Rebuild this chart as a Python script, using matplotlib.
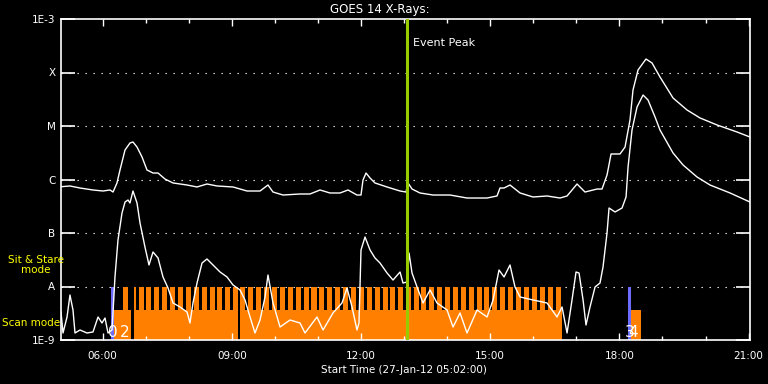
"""
GOES 14 X-ray light curves with IRIS-style observing mode bars
"""
import matplotlib
matplotlib.use("Agg")
import matplotlib.pyplot as plt
from matplotlib.ticker import FixedLocator, NullFormatter

# start of the window: 27-Jan-12 05:02:00, times below in minutes after it
START_HOUR, START_MIN = 5, 2
WINDOW_MIN = 960

# GOES long channel (1-8 A), log10 flux in W/m^2
long_t = [0, 12.5, 26.5, 44.6, 58.5, 68.3, 72.5, 78.0, 82.2, 89.2, 96.1, 100.3,
          105.9, 112.9, 119.8, 128.2, 135.2, 144.9, 156.1, 175.6, 189.5, 203.4,
          217.4, 239.7, 259.2, 277.3, 288.4, 295.4, 309.3, 333.0, 346.9, 360.9,
          374.8, 388.8, 399.9, 412.4, 418.0, 420.8, 425.0, 430.6, 437.5, 454.3,
          472.4, 480.7, 483.5, 489.1, 500.2, 518.3, 542.0, 565.7, 593.6, 607.5,
          611.7, 617.3, 625.6, 639.6, 657.7, 677.2, 695.3, 705.1, 719.0, 730.1,
          746.9, 753.8, 760.8, 766.4, 778.9, 785.9, 792.8, 797.0, 804.0, 815.1,
          823.5, 834.6, 852.8, 872.3, 890.4, 914.1, 941.9, 960.0]
long_lf = [-6.135, -6.121, -6.159, -6.196, -6.215, -6.196, -6.234, -6.065, -5.822,
           -5.449, -5.318, -5.299, -5.393, -5.579, -5.822, -5.879, -5.879, -5.991,
           -6.065, -6.103, -6.140, -6.084, -6.121, -6.140, -6.215, -6.215, -6.103,
           -6.234, -6.290, -6.271, -6.271, -6.196, -6.252, -6.252, -6.196, -6.290,
           -6.290, -6.009, -5.879, -5.972, -6.065, -6.140, -6.215, -6.234, -6.065,
           -6.178, -6.252, -6.290, -6.290, -6.346, -6.346, -6.308, -6.159, -6.159,
           -6.103, -6.252, -6.327, -6.308, -6.346, -6.308, -6.084, -6.234, -6.178,
           -6.178, -5.916, -5.523, -5.523, -5.393, -4.888, -4.327, -3.953, -3.748,
           -3.822, -4.084, -4.477, -4.701, -4.850, -4.981, -5.112, -5.206]

# GOES short channel (0.5-4 A), log10 flux in W/m^2
short_t = [0, 2.8, 8.4, 12.5, 16.7, 19.5, 26.5, 36.2, 44.6, 51.6, 57.1, 61.3, 65.5,
           71.1, 75.2, 79.4, 85.0, 89.2, 93.4, 96.1, 100.3, 105.9, 110.1, 117.0,
           122.6, 128.2, 135.2, 142.1, 149.1, 156.1, 165.8, 175.6, 179.7, 183.9,
           189.5, 196.5, 203.4, 211.8, 221.6, 231.3, 239.7, 249.4, 256.4, 263.4,
           270.3, 277.3, 284.3, 288.4, 295.4, 305.2, 319.1, 333.0, 340.0, 356.7,
           365.1, 379.0, 391.5, 398.5, 405.5, 412.4, 415.2, 418.0, 423.6, 430.6,
           437.5, 444.5, 454.3, 462.6, 472.4, 476.5, 482.1, 484.9, 489.1, 496.1,
           504.4, 514.2, 523.9, 537.9, 546.2, 556.0, 565.7, 579.7, 593.6, 602.0,
           610.3, 617.3, 625.6, 632.6, 639.6, 657.7, 677.2, 691.1, 698.1, 705.1,
           712.0, 717.6, 721.8, 727.4, 731.5, 737.1, 744.1, 751.0, 755.2, 760.8,
           763.6, 772.0, 781.7, 787.3, 790.1, 795.6, 802.6, 811.0, 817.9, 827.7,
           834.6, 852.8, 866.7, 886.2, 904.3, 932.2, 960.0]
short_lf = [-8.477, -8.869, -8.570, -8.159, -8.439, -8.869, -8.813, -8.869, -8.850,
            -8.570, -8.682, -8.589, -8.869, -8.813, -7.822, -7.131, -6.626, -6.421,
            -6.383, -6.439, -6.215, -6.439, -6.813, -7.262, -7.598, -7.355, -7.467,
            -7.822, -8.028, -8.308, -8.383, -8.477, -8.682, -8.308, -7.935, -7.561,
            -7.486, -7.598, -7.729, -7.822, -7.972, -8.065, -8.252, -8.570, -8.869,
            -8.626, -8.196, -7.785, -8.308, -8.757, -8.626, -8.682, -8.869, -8.570,
            -8.813, -8.495, -8.308, -8.028, -8.383, -8.813, -8.682, -7.318, -7.075,
            -7.318, -7.467, -7.561, -7.748, -7.879, -7.729, -7.935, -7.916, -7.374,
            -7.748, -8.009, -8.308, -8.065, -8.308, -8.439, -8.757, -8.495, -8.869,
            -8.439, -8.570, -8.252, -7.692, -7.822, -7.598, -8.009, -8.196, -8.252,
            -8.308, -8.570, -8.383, -8.869, -8.252, -7.729, -7.748, -8.252, -8.720,
            -8.383, -8.009, -7.935, -7.636, -7.000, -6.533, -6.607, -6.533, -6.327,
            -5.766, -5.075, -4.645, -4.421, -4.514, -4.832, -5.075, -5.505, -5.729,
            -5.953, -6.103, -6.252, -6.421]

# observing modes (minutes after start)
scan_blocks = [(73.9, 97.5), (101.7, 246.6), (249.4, 698.0), (794.2, 808.0)]
stare_starts = [86, 97, 108, 119, 130, 141, 152, 163, 174, 185, 196, 207, 218, 228,
                239, 250, 261, 272, 283, 294, 305, 316, 327, 338, 349, 360, 371, 382,
                393, 404, 415, 426, 437, 448, 459, 470, 481, 492, 502, 513, 524, 535,
                546, 557, 568, 579, 590, 601, 612, 623, 634, 645, 656, 667, 678, 689]
stare_dur = 7.0
gaps = [(97.5, 101.7), (246.6, 249.4)]
obs_markers = [(69.7, 73.9), (790.1, 794.2)]
obs_labels = [("0", 72.5), ("2", 89.2), ("3", 793.0), ("4", 797.0)]
event_peak = 482.1

y_ticks = [1e-9, 1e-8, 1e-7, 1e-6, 1e-5, 1e-4, 1e-3]
y_labels = ["1E-9", "A", "B", "C", "M", "X", "1E-3"]
x_major = [58, 238, 418, 598, 778, 958]
x_minor = [58 + 60 * k for k in range(16)]

SCAN_LEVEL = 3.6e-9
STARE_LEVEL = 1e-8
BOTTOM = 1e-9

ORANGE = "#ff8000"
BLUE = "#6b6bff"
GREEN = "#99cc00"


def hhmm(m):
    total = START_HOUR * 60 + START_MIN + m
    return f"{int(total // 60) % 24:02d}:{int(total % 60):02d}"


fig = plt.figure(figsize=(7.68, 3.84), dpi=100, facecolor="black")
ax = fig.add_axes([61 / 768, 44 / 384, 689 / 768, 321 / 384])
ax.set_facecolor("black")
ax.set_yscale("log")
ax.set_xlim(0, WINDOW_MIN)
ax.set_ylim(1e-9, 1e-3)

# mode bars
for s in stare_starts:
    ax.bar(s, STARE_LEVEL - BOTTOM, width=stare_dur, bottom=BOTTOM, align="edge",
           color=ORANGE, linewidth=0, antialiased=False, zorder=1)
for a, b in scan_blocks:
    ax.bar(a, SCAN_LEVEL - BOTTOM, width=b - a, bottom=BOTTOM, align="edge",
           color=ORANGE, linewidth=0, antialiased=False, zorder=1)
for a, b in gaps:
    ax.bar(a, STARE_LEVEL - BOTTOM, width=b - a, bottom=BOTTOM, align="edge",
           color="black", linewidth=0, antialiased=False, zorder=1.5)
for a, b in obs_markers:
    ax.bar(a, STARE_LEVEL - BOTTOM, width=b - a, bottom=BOTTOM, align="edge",
           color=BLUE, linewidth=0, antialiased=False, zorder=1.6)
for txt, m in obs_labels:
    ax.text(m, 1.38e-9, txt, color="white", fontsize=11, ha="center", va="center",
            zorder=4)

# grid
for yv in y_ticks[1:-1]:
    ax.axhline(yv, color="white", lw=0.8, ls=(0, (1.2, 6.0)), zorder=0.5)

# light curves
ax.plot(long_t, [10 ** v for v in long_lf], color="white", lw=1.0, zorder=3)
ax.plot(short_t, [10 ** v for v in short_lf], color="white", lw=1.0, zorder=3)

ax.axvline(event_peak, color=GREEN, lw=2.2, zorder=3.5)
ax.text(event_peak + 8, 3.6e-4, "Event Peak", color="white", fontsize=8,
        ha="left", va="center")

# axes styling
for sp in ax.spines.values():
    sp.set_color("white")
    sp.set_linewidth(1.2)
ax.yaxis.set_major_locator(FixedLocator(y_ticks))
ax.yaxis.set_minor_locator(FixedLocator([]))
ax.set_yticklabels(y_labels)
ax.xaxis.set_major_locator(FixedLocator(x_major))
ax.xaxis.set_minor_locator(FixedLocator(x_minor))
ax.xaxis.set_minor_formatter(NullFormatter())
ax.set_xticklabels([hhmm(m) for m in x_major])
ax.tick_params(axis="y", which="major", direction="in", length=10, width=1.2,
               colors="white", labelsize=7.5, pad=4, right=True)
ax.tick_params(axis="x", which="major", direction="in", length=5, width=1,
               colors="white", labelsize=7.5, pad=8, top=True)
ax.tick_params(axis="x", which="minor", direction="in", length=3, width=1,
               colors="white", top=True)

fig.text(0.495, 1 - 9 / 384, "GOES 14 X-Rays:", color="white", fontsize=8.5,
         ha="center", va="center")
fig.text(404 / 768, 1 - 370 / 384, "Start Time (27-Jan-12 05:02:00)",
         color="white", fontsize=7.5, ha="center", va="center")
fig.text(36 / 768, 1 - 265 / 384, "Sit & Stare\nmode", color="yellow",
         fontsize=7.5, ha="center", va="center", linespacing=1.0)
fig.text(2 / 768, 1 - 323 / 384, "Scan mode", color="yellow", fontsize=7.5,
         ha="left", va="center")

fig.savefig("out.png", dpi=100, facecolor="black")
